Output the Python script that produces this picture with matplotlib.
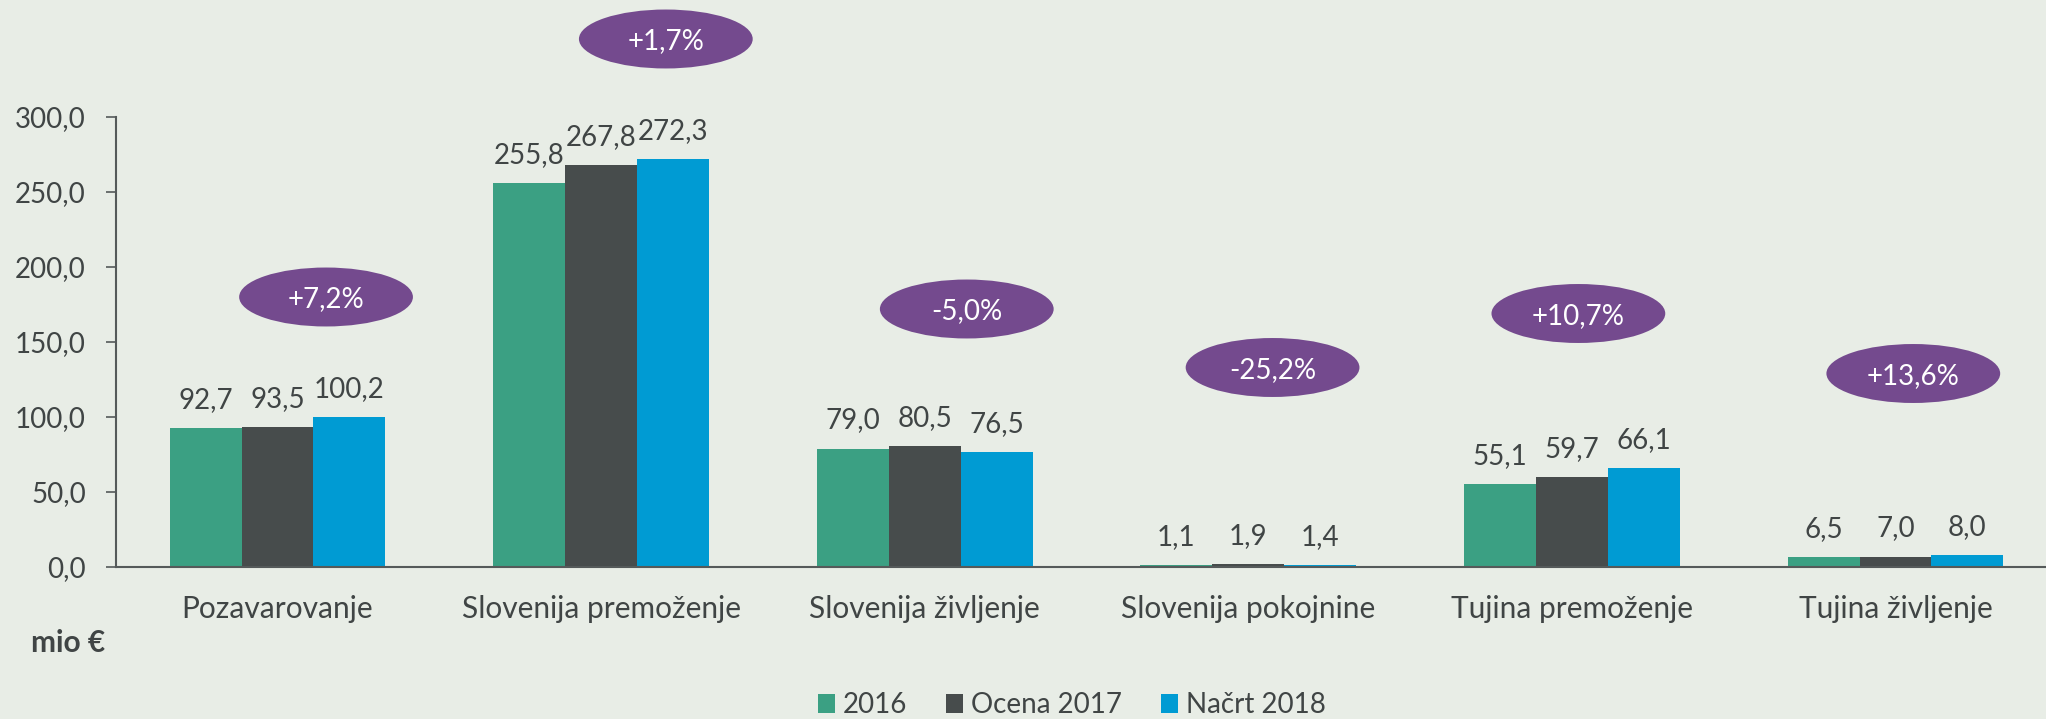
import matplotlib
matplotlib.use("Agg")
import matplotlib.pyplot as plt
from matplotlib.patches import Ellipse, Patch
import numpy as np

# Data (mio €)
categories = ["Pozavarovanje", "Slovenija premoženje", "Slovenija življenje",
              "Slovenija pokojnine", "Tujina premoženje", "Tujina življenje"]
series_names = ["2016", "Ocena 2017", "Načrt 2018"]
values_2016 = [92.7, 255.8, 79.0, 1.1, 55.1, 6.5]
values_2017 = [93.5, 267.8, 80.5, 1.9, 59.7, 7.0]
values_2018 = [100.2, 272.3, 76.5, 1.4, 66.1, 8.0]
changes = ["+7,2%", "+1,7%", "-5,0%", "-25,2%", "+10,7%", "+13,6%"]
yticks = [0, 50, 100, 150, 200, 250, 300]

# Badge placement (x offset from group centre, y in axis units)
badge_dx = [0.15, 0.20, 0.13, 0.075, 0.02, 0.055]
badge_y = [180, 352, 172, 133, 169, 129]

colors = ["#3BA083", "#474C4C", "#009BD3"]
purple = "#744A8E"
bg = "#E8EDE6"
text_col = "#404545"
axis_col = "#555A5A"

plt.rcParams["font.family"] = ["Lato", "DejaVu Sans"]
FS = 20
FS_CAT = 21.5

fig = plt.figure(figsize=(20.46, 7.19), dpi=100, facecolor=bg)
ax = fig.add_axes([115.7 / 2046, 152 / 719, 1941.6 / 2046, 450 / 719])
ax.set_facecolor(bg)

x = np.arange(len(categories))
w = 0.2222
series = [values_2016, values_2017, values_2018]
for i, (vals, c) in enumerate(zip(series, colors)):
    bars = ax.bar(x + (i - 1) * w, vals, width=w, color=c, edgecolor="none", zorder=2)
    for b, v in zip(bars, vals):
        ax.annotate(f"{v:.1f}".replace(".", ","),
                    (b.get_x() + b.get_width() / 2, b.get_height()),
                    xytext=(0, 14.4), textcoords="offset points",
                    ha="center", va="baseline", fontsize=FS, color=text_col)

# Percentage-change badges
for xi, dx, yy, txt in zip(x, badge_dx, badge_y, changes):
    e = Ellipse((xi + dx, yy), width=0.537, height=39.3, facecolor=purple,
                edgecolor="none", clip_on=False, zorder=3)
    ax.add_patch(e)
    ax.text(xi + dx, yy, txt, ha="center", va="center_baseline", color="white",
            fontsize=FS, zorder=4, clip_on=False)

ax.set_xlim(-0.5, len(categories) - 0.5)
ax.set_ylim(0, 300)
ax.set_yticks(yticks)
ax.set_yticklabels([f"{t:.1f}".replace(".", ",") for t in yticks])
ax.set_xticks(x)
ax.set_xticklabels(categories)

for s in ["top", "right"]:
    ax.spines[s].set_visible(False)
for s in ["left", "bottom"]:
    ax.spines[s].set_color(axis_col)
    ax.spines[s].set_linewidth(1.5)

ax.tick_params(axis="y", length=7.5, width=1.2, color=axis_col, pad=14,
               labelsize=FS, labelcolor=text_col)
ax.tick_params(axis="x", length=0, pad=20, labelsize=FS_CAT, labelcolor=text_col)

fig.text(31 / 2046, 1 - 643 / 719, "mio €", fontsize=21.5, fontweight="bold",
         color=text_col, ha="left", va="center")

handles = [Patch(facecolor=c, edgecolor="none") for c in colors]
fig.legend(handles, series_names, loc="center", bbox_to_anchor=(1072 / 2046, 1 - 705 / 719),
           ncol=3, frameon=False, fontsize=FS, labelcolor=text_col,
           handlelength=0.6, handleheight=0.65, handletextpad=0.3,
           columnspacing=1.4, borderpad=0)

fig.savefig("out.png", dpi=100, facecolor=bg)
